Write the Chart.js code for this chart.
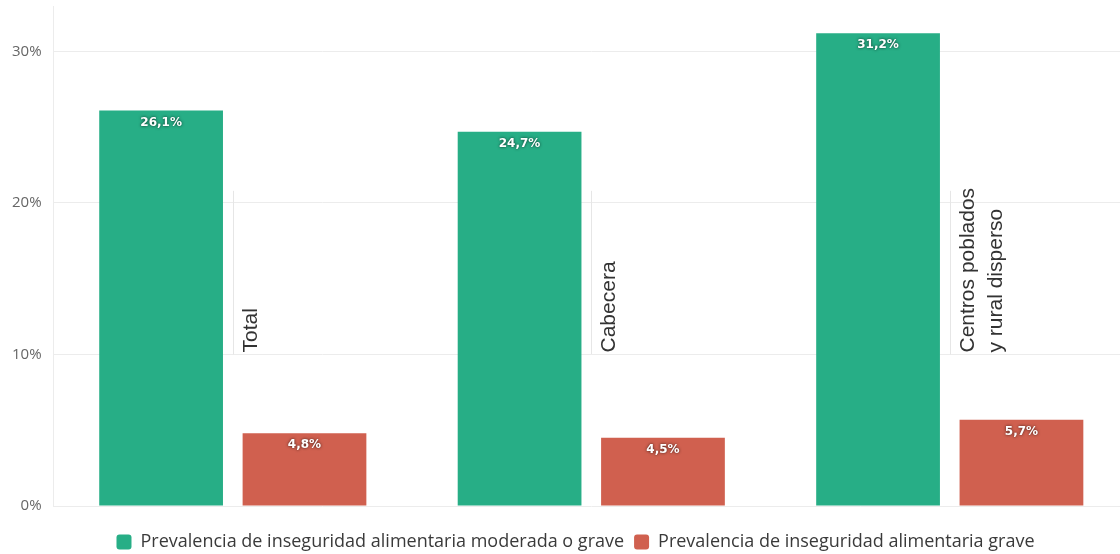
<!DOCTYPE html>
<html>
<head>
<meta charset="utf-8">
<script src="https://cdn.jsdelivr.net/npm/chart.js"></script>
<style>
  html, body { margin: 0; padding: 0; background: #fff; overflow: hidden; }
  #wrap { width: 1129px; height: 554px; overflow: hidden; }
  #chart { margin-top: -15px; display: block; }
</style>
</head>
<body>
<div id="wrap"><canvas id="chart" width="1129" height="576"></canvas></div>
<script>
const categories = [['Total'], ['Cabecera'], ['Centros poblados', 'y rural disperso']];
const moderadaGrave = [26.1, 24.7, 31.2];
const grave = [4.8, 4.5, 5.7];
const yTicks = [0, 10, 20, 30];

const fmt = v => v.toFixed(1).replace('.', ',') + '%';

// white value label at the top of each bar
const barLabels = {
  id: 'barLabels',
  afterDatasetsDraw(chart) {
    const ctx = chart.ctx;
    ctx.save();
    ctx.font = 'bold 12px "DejaVu Sans", Verdana, sans-serif';
    ctx.textAlign = 'center';
    ctx.textBaseline = 'middle';
    ctx.fillStyle = '#fff';
    ctx.shadowColor = 'rgba(0,0,0,0.75)';
    ctx.shadowBlur = 3;
    chart.data.datasets.forEach((ds, di) => {
      chart.getDatasetMeta(di).data.forEach((bar, i) => {
        ctx.fillText(fmt(ds.data[i]), bar.x, bar.y + 12);
      });
    });
    ctx.restore();
  }
};

// category names written vertically in the middle of each group
const groupLabels = {
  id: 'groupLabels',
  afterDatasetsDraw(chart) {
    const ctx = chart.ctx;
    const x = chart.scales.x, y = chart.scales.y;
    ctx.save();
    categories.forEach((lines, i) => {
      const cx = Math.round(x.getPixelForValue(i)) + 0.5;
      const yBottom = y.getPixelForValue(10);
      ctx.strokeStyle = '#e6e6e6';
      ctx.lineWidth = 1;
      ctx.beginPath();
      ctx.moveTo(cx, y.getPixelForValue(20.8));
      ctx.lineTo(cx, yBottom);
      ctx.stroke();

      ctx.save();
      ctx.translate(cx + 7, yBottom - 2);
      ctx.rotate(-Math.PI / 2);
      ctx.font = '21px "Liberation Sans", Arial, sans-serif';
      ctx.fillStyle = '#333';
      ctx.textAlign = 'left';
      ctx.textBaseline = 'top';
      lines.forEach((t, k) => ctx.fillText(t, 0, k * 28));
      ctx.restore();
    });
    ctx.restore();
  }
};

// legend sits a bit right of the canvas centre
const legendShift = {
  id: 'legendShift',
  afterLayout(chart) {
    chart.legend.left += 11;
    chart.legend.right += 11;
  }
};

new Chart(document.getElementById('chart'), {
  type: 'bar',
  data: {
    labels: categories.map(c => c.join(' ')),
    datasets: [
      {
        label: 'Prevalencia de inseguridad alimentaria moderada o grave',
        data: moderadaGrave,
        backgroundColor: '#27ae86',
        categoryPercentage: 0.8,
        barPercentage: 0.863
      },
      {
        label: 'Prevalencia de inseguridad alimentaria grave',
        data: grave,
        backgroundColor: '#d0604f',
        categoryPercentage: 0.8,
        barPercentage: 0.863
      }
    ]
  },
  options: {
    responsive: false,
    animation: false,
    layout: { padding: { left: 0, right: 0, top: 0, bottom: 0 } },
    plugins: {
      tooltip: { enabled: false },
      legend: {
        position: 'bottom',
        labels: {
          font: { family: '"Open Sans", sans-serif', size: 18 },
          color: '#3a3a3a',
          boxWidth: 15,
          boxHeight: 15,
          useBorderRadius: true,
          borderRadius: 3,
          padding: 10
        }
      }
    },
    scales: {
      x: {
        ticks: { display: false },
        grid: { display: false },
        border: { display: false },
        afterFit: s => { s.height = 17; }
      },
      y: {
        min: 0,
        max: 33,
        afterBuildTicks: s => { s.ticks = yTicks.map(v => ({ value: v })); },
        ticks: {
          callback: v => v + '%',
          font: { family: '"Open Sans", sans-serif', size: 15 },
          color: '#666',
          padding: 12
        },
        grid: { color: '#ececec', drawTicks: false },
        border: { color: '#ececec' }
      }
    }
  },
  plugins: [barLabels, groupLabels, legendShift]
});
</script>
</body>
</html>
